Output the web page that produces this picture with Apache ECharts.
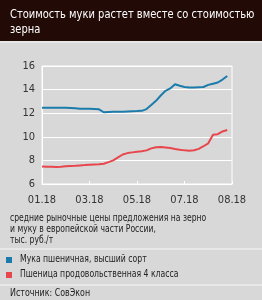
<!DOCTYPE html>
<html>
<head>
<meta charset="utf-8">
<script src="https://cdn.jsdelivr.net/npm/echarts@6/dist/echarts.min.js"></script>
<style>
  html, body { margin: 0; padding: 0; background: #d8d8d8; }
  #main { width: 262px; height: 300px; }
</style>
</head>
<body>
<div id="main"></div>
<script>
// недели с начала года (0..39), подписи оси по 10 недель
const tickLabels = ['01.18', '03.18', '05.18', '07.18', '08.18']
const weeks = Array.from({ length: 40 }, (_, i) => i)
const flour = [12.47, 12.47, 12.47, 12.47, 12.47, 12.46, 12.45, 12.42, 12.38, 12.37,
  12.37, 12.36, 12.33, 12.08, 12.1, 12.12, 12.12, 12.13, 12.15, 12.17,
  12.18, 12.2, 12.35, 12.7, 13.05, 13.5, 13.9, 14.1, 14.45, 14.32,
  14.22, 14.18, 14.18, 14.2, 14.22, 14.4, 14.5, 14.6, 14.85, 15.15]
const wheat = [7.48, 7.47, 7.46, 7.44, 7.46, 7.5, 7.52, 7.54, 7.57, 7.6,
  7.64, 7.66, 7.68, 7.72, 7.85, 8.0, 8.25, 8.5, 8.62, 8.68,
  8.73, 8.78, 8.85, 9.02, 9.12, 9.14, 9.1, 9.05, 8.97, 8.9,
  8.85, 8.82, 8.86, 8.98, 9.2, 9.45, 10.18, 10.22, 10.45, 10.58]
const seriesNames = ['Мука пшеничная, высший сорт', 'Пшеница продовольственная 4 класса']
const colors = ['#1b7bab', '#e8464d']

const FONT = "'DejaVu Sans Condensed', 'Liberation Sans', sans-serif"
const chart = echarts.init(document.getElementById('main'))

// текст, сжатый по горизонтали (узкий шрифт как в оригинале)
const narrowText = (x, y, text, size, sx, color, lh) => ({
  type: 'text', x: x, y: y, scaleX: sx,
  style: { text: text, x: 0, y: 0, verticalAlign: 'top', fill: color, font: size + 'px ' + FONT, lineHeight: lh || size }
})

chart.setOption({
  backgroundColor: '#d8d8d8',
  animation: false,
  textStyle: { fontFamily: FONT },
  graphic: [
    { type: 'rect', shape: { x: 0, y: 0, width: 262, height: 41 }, style: { fill: '#220a07' } },
    { type: 'rect', shape: { x: 0, y: 41, width: 262, height: 2 }, style: { fill: '#e6e6e6' } },
    narrowText(10, 7, 'Стоимость муки растет вместе со стоимостью\nзерна', 13, 0.85, '#fff', 15),
    narrowText(10, 213, 'средние рыночные цены предложения на зерно\nи муку в европейской части России,\nтыс. руб./т', 10, 0.85, '#222', 11),
    { type: 'rect', shape: { x: 0, y: 248, width: 262, height: 2 }, style: { fill: '#e8e8e8' } },
    { type: 'rect', shape: { x: 6, y: 257, width: 6, height: 6 }, style: { fill: colors[0] } },
    { type: 'rect', shape: { x: 6, y: 272, width: 6, height: 6 }, style: { fill: colors[1] } },
    narrowText(20, 254, seriesNames[0], 11, 0.78, '#222'),
    narrowText(20, 269, seriesNames[1], 11, 0.78, '#222'),
    { type: 'rect', shape: { x: 0, y: 284, width: 262, height: 2 }, style: { fill: '#e8e8e8' } },
    narrowText(10, 288, 'Источник: СовЭкон', 11, 0.8, '#222')
  ],
  grid: {
    left: 42, right: 30, top: 66, bottom: 116,
    show: true, borderColor: '#fff', borderWidth: 1
  },
  xAxis: {
    type: 'value',
    min: 0, max: 40, interval: 10,
    axisLine: { show: true, lineStyle: { color: '#fff' } },
    axisTick: { show: true, inside: true, length: 3, lineStyle: { color: '#fff' } },
    splitLine: { show: false },
    axisLabel: {
      color: '#333', fontSize: 11, fontFamily: FONT, margin: 11,
      formatter: v => tickLabels[v / 10]
    }
  },
  yAxis: {
    type: 'value',
    min: 6, max: 16, interval: 2,
    axisLine: { show: true, lineStyle: { color: '#fff' } },
    axisTick: { show: false },
    splitLine: { lineStyle: { color: '#fff', width: 1 } },
    axisLabel: { color: '#333', fontSize: 11, fontFamily: FONT, margin: 7 }
  },
  series: [
    {
      name: seriesNames[0], type: 'line', symbol: 'none',
      color: colors[0], lineStyle: { width: 2 },
      data: weeks.map(i => [i, flour[i]])
    },
    {
      name: seriesNames[1], type: 'line', symbol: 'none',
      color: colors[1], lineStyle: { width: 2 },
      data: weeks.map(i => [i, wheat[i]])
    }
  ]
})
</script>
</body>
</html>
